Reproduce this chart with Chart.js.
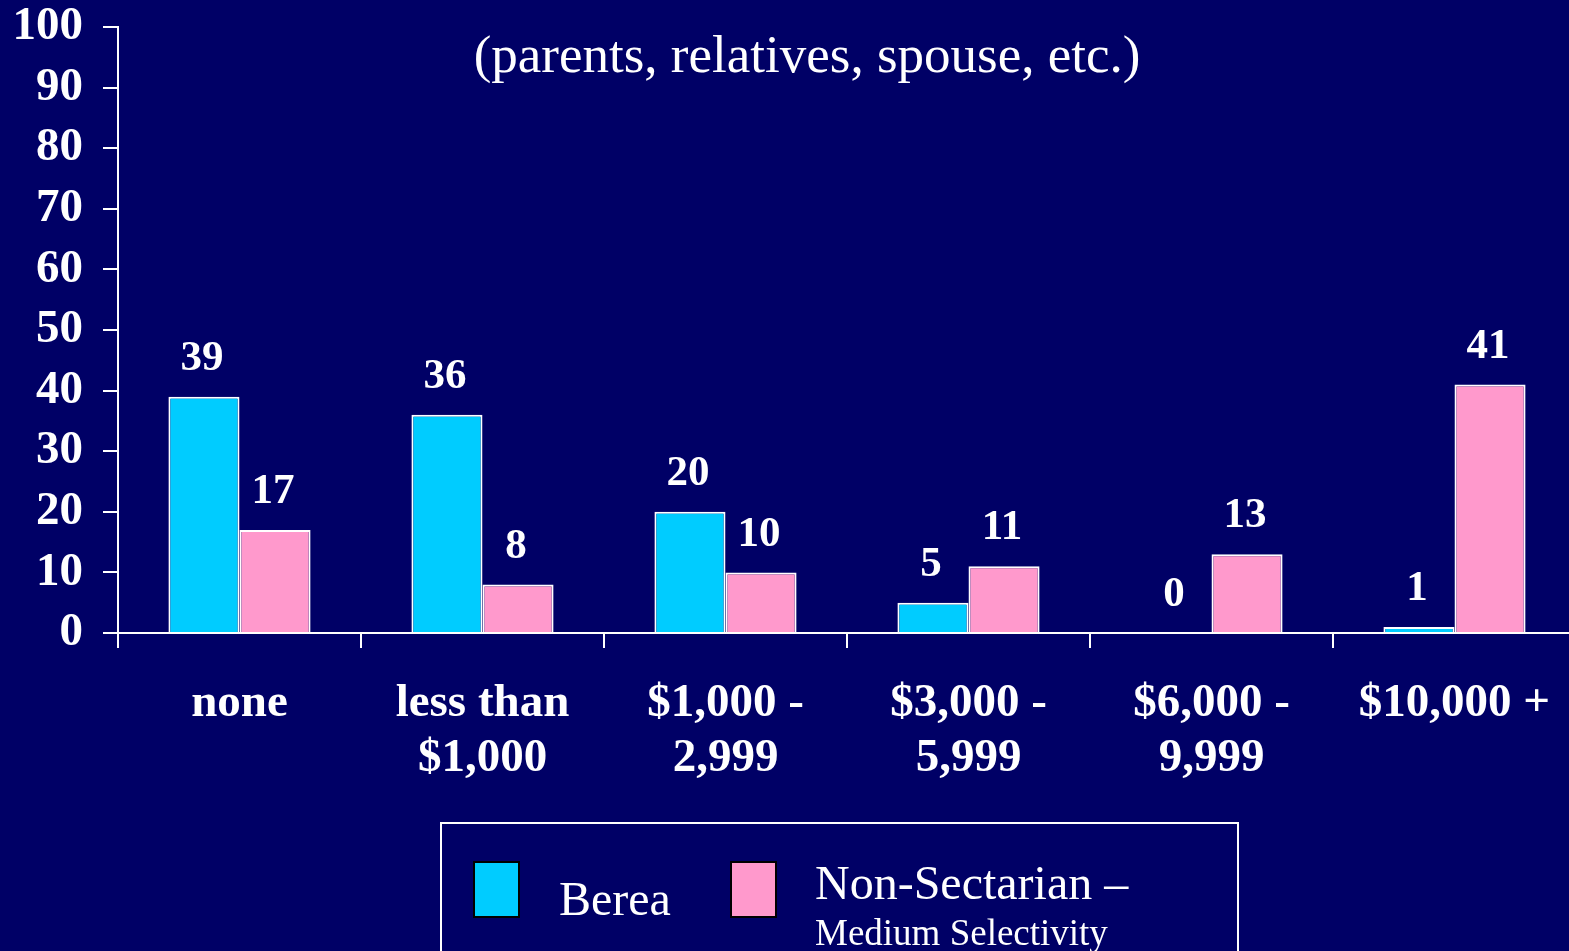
<!DOCTYPE html>
<html>
<head>
<meta charset="utf-8">
<script src="https://cdn.jsdelivr.net/npm/chart.js@4.4.0/dist/chart.umd.min.js"></script>
<style>
  html, body { margin:0; padding:0; background:#000066; overflow:hidden; width:1569px; height:951px; }
  #wrap { position:relative; width:1569px; height:951px; overflow:hidden; }
  canvas { position:absolute; left:0; top:0; }
  .serif { font-family:"Liberation Serif","Times New Roman",serif; color:#fff; }
  #legend { position:absolute; left:440px; top:822px; width:795px; height:200px; border:2px solid #fff; }
  .sw { position:absolute; width:43px; height:53px; border:2px solid #000; }
  .lt { position:absolute; white-space:nowrap; line-height:1; }
</style>
</head>
<body>
<div id="wrap">
  <canvas id="c" width="1600" height="951"></canvas>
  <div id="legend" class="serif">
    <div class="sw" style="left:31px; top:37px; background:#00CCFF;"></div>
    <div class="lt" style="left:117px; top:51px; font-size:48px;">Berea</div>
    <div class="sw" style="left:288px; top:37px; background:#FF99CC;"></div>
    <div class="lt" style="left:373px; top:35px; font-size:48px;">Non-Sectarian –</div>
    <div class="lt" style="left:373px; top:90px; font-size:37px;">Medium Selectivity</div>
  </div>
</div>
<script>
const categories = [["none"], ["less than", "$1,000"], ["$1,000 -", "2,999"], ["$3,000 -", "5,999"], ["$6,000 -", "9,999"], ["$10,000 +"]];
const bereaValues = [39, 36, 20, 5, 0, 1];
const nonSectarianValues = [17, 8, 10, 11, 13, 41];
const yTicks = [0, 10, 20, 30, 40, 50, 60, 70, 80, 90, 100];
const subtitleText = "(parents, relatives, spouse, etc.)";

const SERIF = '"Liberation Serif","Times New Roman",serif';

const overlay = {
  id: 'overlay',
  afterDatasetsDraw(chart) {
    const ctx = chart.ctx;
    ctx.save();
    ctx.fillStyle = '#ffffff';
    ctx.textAlign = 'center';
    ctx.textBaseline = 'middle';
    ctx.font = 'bold 43px ' + SERIF;
    chart.data.datasets.forEach((ds, di) => {
      const meta = chart.getDatasetMeta(di);
      meta.data.forEach((el, i) => {
        ctx.fillText(String(ds.data[i]), el.x - 2, el.y - 38);
      });
    });
    ctx.font = '53px ' + SERIF;
    ctx.fillText(subtitleText, 807, 58);
    ctx.restore();
  }
};

new Chart(document.getElementById('c'), {
  type: 'bar',
  data: {
    labels: categories,
    datasets: [
      { label: 'Berea', data: bereaValues, backgroundColor: '#00CCFF', borderColor: '#ffffff', borderWidth: 2,
        categoryPercentage: 0.585, barPercentage: 1.0 },
      { label: 'Non-Sectarian – Medium Selectivity', data: nonSectarianValues, backgroundColor: '#FF99CC', borderColor: '#ffffff', borderWidth: 2,
        categoryPercentage: 0.585, barPercentage: 1.0 }
    ]
  },
  options: {
    responsive: false,
    devicePixelRatio: 1,
    animation: false,
    layout: { padding: { top: 27, left: 0, right: 24, bottom: 0 } },
    plugins: { legend: { display: false }, tooltip: { enabled: false }, title: { display: false } },
    scales: {
      x: {
        grid: { offset: true, drawOnChartArea: false, color: '#ffffff', lineWidth: 2, tickLength: 15 },
        border: { color: '#ffffff', width: 2 },
        ticks: { color: '#ffffff', font: { family: SERIF, size: 47, weight: 'bold', lineHeight: 1.17 }, padding: 28, maxRotation: 0, autoSkip: false },
        afterFit(scale) { scale.height = 318; scale.paddingLeft = 0; scale.paddingRight = 0; }
      },
      y: {
        min: 0, max: 100,
        afterBuildTicks(scale) { scale.ticks = yTicks.map(v => ({ value: v })); },
        grid: { drawOnChartArea: false, color: '#ffffff', lineWidth: 2, tickLength: 15 },
        border: { color: '#ffffff', width: 2 },
        ticks: { color: '#ffffff', font: { family: SERIF, size: 47, weight: 'bold' }, padding: 20, autoSkip: false },
        afterFit(scale) { scale.width = 118; scale.paddingTop = 0; scale.paddingBottom = 0; }
      }
    }
  },
  plugins: [overlay]
});
</script>
</body>
</html>
